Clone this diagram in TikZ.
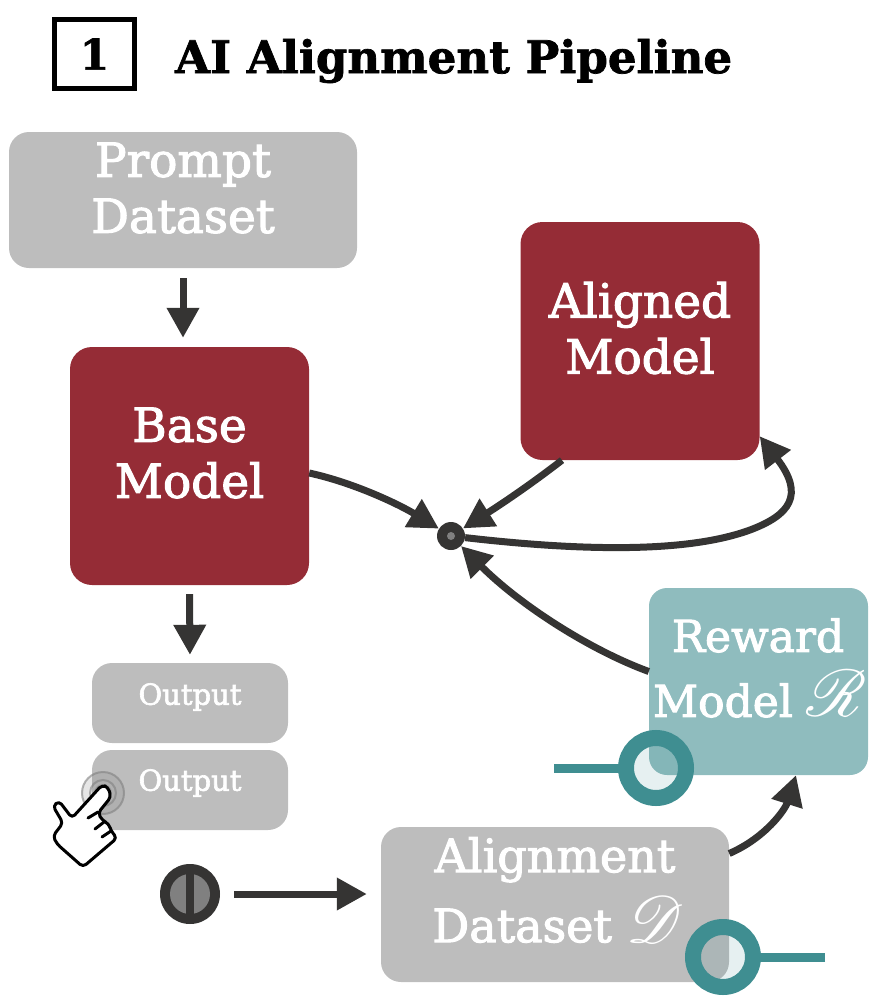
\documentclass[tikz,border=0pt]{standalone}
\usepackage{fontspec}
\setmainfont{DejaVu Serif}
\newfontfamily\boxfont[FakeBold=2.2]{DejaVu Serif}
\newfontfamily\titlefont[FakeBold=1.6]{DejaVu Serif Bold}
\font\scrfont=rsfs10 at 66pt
\usetikzlibrary{arrows.meta}
\definecolor{maroon}{HTML}{952C36}
\definecolor{boxgray}{HTML}{BDBDBD}
\definecolor{rewardteal}{HTML}{8FBCBE}
\definecolor{ringteal}{HTML}{3F8E91}
\definecolor{darkline}{HTML}{353433}
\tikzset{
  x=1pt, y=-1pt,
  databox/.style   = {rectangle, rounded corners=20pt, fill=boxgray, inner sep=0pt},
  modelbox/.style  = {rectangle, rounded corners=22pt, fill=maroon, inner sep=0pt,
                      minimum width=239pt, minimum height=238pt},
  rewardbox/.style = {rectangle, rounded corners=18pt, fill=rewardteal, inner sep=0pt,
                      minimum width=219pt, minimum height=187pt},
  boxtext/.style   = {text=white, align=center, font=\boxfont\fontsize{47}{56}\selectfont},
  smalltext/.style = {text=white, font=\boxfont\fontsize{29}{30}\selectfont},
  flow/.style      = {draw=darkline, line width=7pt,
                      -{Triangle[length=30pt,width=31pt]}},
  ring/.style      = {circle, draw=ringteal, line width=16pt, fill=ringteal, outer sep=0pt,
                      fill opacity=.13, draw opacity=1, minimum size=60pt, inner sep=0pt},
  handle/.style    = {draw=ringteal, line width=9pt},
  touch/.style     = {draw=gray, line width=2pt, opacity=.6},
}
\begin{document}
\begin{tikzpicture}
  \useasboundingbox (0,0) rectangle (880,1004);

  \node (numbox) [draw=black, line width=5pt, minimum width=80pt, minimum height=69pt,
                  font=\titlefont\fontsize{42}{44}\selectfont] at (94.5,54) {1};
  \node (title) [anchor=west, inner sep=0pt, font=\titlefont\fontsize{45}{50}\selectfont]
                at (175,61) {AI Alignment Pipeline};

  \node (prompt) [databox, minimum width=348pt, minimum height=136pt] at (183,200) {};
  \node (promptlabel) [boxtext] at (183,188) {Prompt\\Dataset};
  \node (base) [modelbox] at (189.5,466) {};
  \node (baselabel) [boxtext] at (189.5,453) {Base\\Model};
  \node (aligned) [modelbox] at (640,341) {};
  \node (alignedlabel) [boxtext] at (640,328) {Aligned\\Model};
  \node (outa) [databox, minimum width=196pt, minimum height=80pt] at (190,703) {};
  \node (outalabel) [smalltext] at (190,697) {Output};
  \node (outb) [databox, minimum width=196pt, minimum height=80pt] at (190,790) {};
  \node (outblabel) [smalltext] at (190,783) {Output};
  \node (reward) [rewardbox] at (758.5,681.5) {};
  \node (rewardlabel) [boxtext, font=\boxfont\fontsize{44}{65}\selectfont] at (758,668) {Reward\\Model {\scrfont R}};
  \node (dataset) [databox, minimum width=348pt, minimum height=155pt] at (555,904.5) {};
  \node (datasetlabel) [boxtext, font=\boxfont\fontsize{46}{70}\selectfont] at (555,890) {Alignment\\Dataset {\scrfont D}};

  \node (junction) [circle, fill=darkline, minimum size=28pt, inner sep=0pt] at (451,536) {};
  \fill[gray] (junction) circle (4);
  \node (source) [circle, fill=darkline, minimum size=60pt, inner sep=0pt] at (190,894) {};
  \fill[gray] (source) circle (20);
  \fill[darkline] (186,870) rectangle (194,918);

  \draw[flow, shorten <=10pt, shorten >=9pt] (prompt.south) -- (prompt.south |- base.north);
  \draw[flow, shorten <=9pt, shorten >=8pt] (base.south) -- (outa.north);
  \draw[flow] ([yshift=-7pt]base.east) .. controls (355,483) and (400,505) .. (junction);
  \draw[flow] ([xshift=-78pt]aligned.south) .. controls (530,485) and (500,505) .. (junction);
  \draw[flow] (junction) .. controls (590,552) and (690,552) .. (750,530)
              .. controls (790,515) and (805,495) .. ([yshift=24pt]aligned.south east);
  \draw[flow] ([yshift=10pt]reward.west) .. controls (590,650) and (520,605) .. (junction);
  \draw[flow] ([yshift=51pt]dataset.east) .. controls (765,838) and (785,810) .. (reward.south -| 796,775);
  \draw[flow, shorten <=14pt, shorten >=14pt] (source) -- (source -| dataset.west);

  \coordinate (rewardend) at (554,768);
  \coordinate (datasetend) at (825,957);
  \node (rewardring) [ring] at (656,768) {};
  \node (datasetring) [ring] at (723,957) {};
  \draw[handle] (rewardend) -- (rewardring);
  \draw[handle] (datasetend) -- (datasetring);

  \draw[touch, fill=gray, fill opacity=.2] (103,793) circle (21);
  \draw[touch] (103,793) circle (13);
  \fill[gray, opacity=.5] (103,793) circle (9);
  \draw[fill=white, line width=3pt, line join=round, rounded corners=4pt]
    (102,785) -- (72,818) -- (59,801) -- (53,806) -- (63,823) -- (53,836) -- (57,844)
    -- (83,867) -- (117,838) -- (111,831) -- (109,824) -- (102,820) -- (98,813)
    -- (111,797) -- (108,787) -- cycle;
  \draw[line width=3pt, line cap=round] (88,818) -- (98,812);
  \draw[line width=3pt, line cap=round] (95,829) -- (104,822);
  \draw[line width=3pt, line cap=round] (102,837) -- (111,831);
\end{tikzpicture}
\end{document}
